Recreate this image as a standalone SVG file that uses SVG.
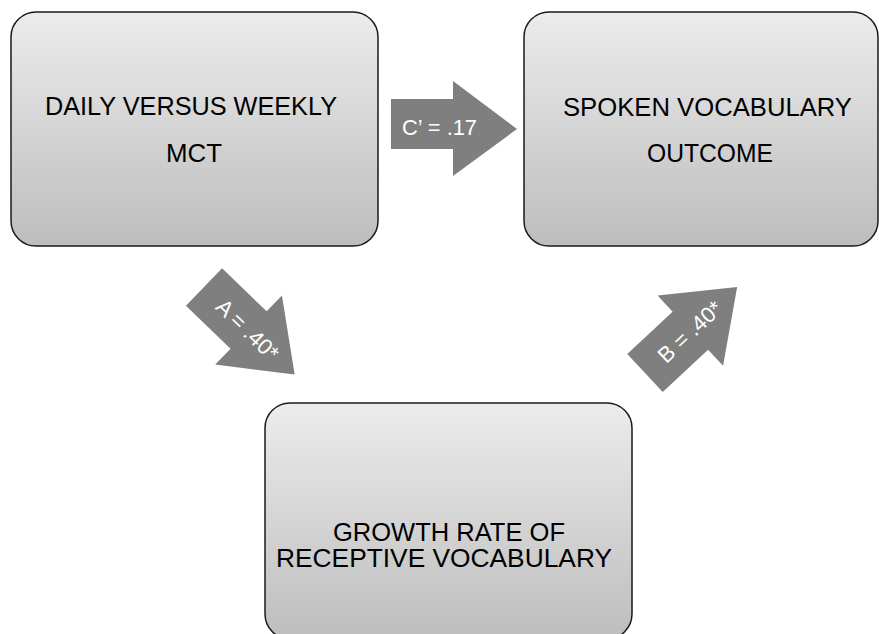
<svg xmlns="http://www.w3.org/2000/svg" width="879" height="634" viewBox="0 0 879 634">
  <defs>
    <linearGradient id="g" x1="0" y1="0" x2="0" y2="1">
      <stop offset="0" stop-color="#ececec"/>
      <stop offset="1" stop-color="#bdbdbd"/>
    </linearGradient>
    <style>
      .box { fill: url(#g); stroke: #1a1a1a; stroke-width: 1.5; }
      .lbl { font-family: "Liberation Sans", Arial, sans-serif; font-size: 25px; fill: #000; text-anchor: middle; }
      .arr { fill: #7f7f7f; }
      .atxt { font-family: "Liberation Sans", Arial, sans-serif; font-size: 22px; fill: #fff; text-anchor: middle; }
    </style>
  </defs>
  <rect width="879" height="634" fill="#fff"/>
  <g id="connectors">
    <g id="arrow-c">
      <path class="arr" d="M391,99 H453 V81 L517,129 L453,176 V149 H391 Z"/>
      <text class="atxt" x="439.5" y="135" font-size="19" textLength="75" lengthAdjust="spacingAndGlyphs">C’ = .17</text>
    </g>
    <g id="arrow-a" transform="translate(204,287) rotate(44)">
      <path class="arr" d="M0,-26 H62 V-48 L126,0 L62,48 V26 H0 Z"/>
      <text class="atxt" x="61" y="8">A = .40*</text>
    </g>
    <g id="arrow-b" transform="translate(645,373) rotate(-43)">
      <path class="arr" d="M0,-26 H62 V-48 L126,0 L62,48 V26 H0 Z"/>
      <text class="atxt" x="61" y="8">B = .40*</text>
    </g>
  </g>
  <g id="node-daily">
    <rect class="box" x="11" y="12" width="367" height="234" rx="25" ry="25"/>
    <text class="lbl" x="191" y="115" textLength="292" lengthAdjust="spacingAndGlyphs">DAILY VERSUS WEEKLY</text>
    <text class="lbl" x="194" y="162" textLength="56" lengthAdjust="spacingAndGlyphs">MCT</text>
  </g>
  <g id="node-spoken">
    <rect class="box" x="524" y="12" width="354" height="234" rx="25" ry="25"/>
    <text class="lbl" x="707.5" y="116" textLength="289" lengthAdjust="spacingAndGlyphs">SPOKEN VOCABULARY</text>
    <text class="lbl" x="710" y="162" textLength="126" lengthAdjust="spacingAndGlyphs">OUTCOME</text>
  </g>
  <g id="node-growth">
    <rect class="box" x="265" y="403" width="367" height="236" rx="25" ry="25"/>
    <text class="lbl" x="449" y="541" textLength="232" lengthAdjust="spacingAndGlyphs">GROWTH RATE OF</text>
    <text class="lbl" x="444" y="567" textLength="336" lengthAdjust="spacingAndGlyphs">RECEPTIVE VOCABULARY</text>
  </g>
</svg>
